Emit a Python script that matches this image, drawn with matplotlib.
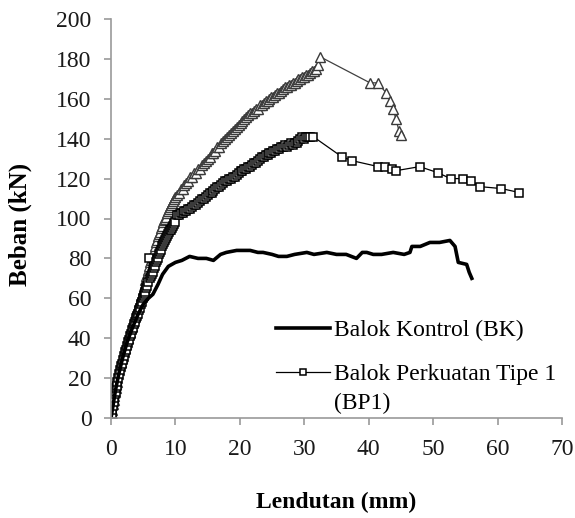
import matplotlib
matplotlib.use("Agg")
import matplotlib.pyplot as plt

plt.rcParams['font.family'] = ['Liberation Serif', 'DejaVu Serif']

# Balok Kontrol (BK)
bk_x = [0, 0.3, 0.7, 1.2, 1.8, 2.5, 3.3, 4.2, 5.0, 5.8, 6.5, 7.3, 8.0, 8.9, 10.0,
        11.0, 12.2, 13.5, 14.8, 15.9, 17.0, 17.9, 19.5, 21.6, 22.8, 23.6, 25.0,
        26.0, 27.3, 28.5, 30.4, 31.5, 33.5, 35.0, 36.5, 38.1, 39.0, 39.7, 40.7,
        42.0, 43.8, 45.5, 46.4, 46.7, 48.0, 49.5, 51.0, 52.6, 53.4, 53.9, 55.2,
        55.6, 56.0]
bk_y = [0, 6, 14, 22, 30, 38, 45, 52, 57, 60, 62, 67, 72, 76, 78,
        79, 81, 80, 80, 79, 82, 83, 84, 84, 83, 83, 82,
        81, 81, 82, 83, 82, 83, 82, 82, 80, 83, 83, 82,
        82, 83, 82, 83, 86, 86, 88, 88, 89, 86, 78, 77,
        73, 70]

# deflection readings of the elastic part (shared by both strengthened beams)
x_early = [0, 0.1, 0.2, 0.3, 0.4, 0.5, 0.6, 0.7, 0.8, 0.9, 1.0,
           1.15, 1.3, 1.45, 1.6, 1.75, 1.9, 2.05, 2.2, 2.35, 2.5, 2.65, 2.8, 2.95,
           3.1, 3.25, 3.4, 3.55, 3.7, 3.85, 4.0, 4.15, 4.3, 4.45, 4.6, 4.75,
           4.9, 5.05, 5.2, 5.35, 5.5, 5.65, 5.8, 5.95, 6.1, 6.25, 6.4, 6.55,
           6.7, 6.85, 7.0, 7.15, 7.3, 7.45, 7.6, 7.75, 7.9, 8.05, 8.2, 8.35,
           8.5, 8.65, 8.8, 8.95, 9.1, 9.25, 9.4, 9.6, 9.8, 10.0, 10.2]
x_mid = [10.5, 10.8, 11.1, 11.4, 11.7, 12.0, 12.3, 12.6, 12.9, 13.2, 13.5, 13.8,
         14.1, 14.4, 14.7, 15.0, 15.3, 15.6, 15.9, 16.2, 16.5, 16.8, 17.1, 17.4,
         17.7, 18.0, 18.3, 18.6, 18.9, 19.2, 19.5, 19.8, 20.1, 20.4, 20.7, 21.0,
         21.3, 21.6, 21.9, 22.2, 22.5, 22.8, 23.1, 23.4, 23.7, 24.0, 24.3, 24.6,
         24.9, 25.2, 25.5, 25.8, 26.1, 26.4, 26.7, 27.0, 27.3, 27.6, 27.9, 28.2,
         28.5, 28.8, 29.1, 29.4, 29.7, 30.0, 30.3, 30.6, 30.9]

# Balok Perkuatan Tipe 1 (BP1)
bp1_x = x_early + x_mid + [31.4, 35.8, 37.4, 41.5, 42.5, 43.6, 44.3, 47.9,
                           50.7, 52.7, 54.6, 55.8, 57.2, 60.6, 63.4]
bp1_y = [0, 2, 4, 6, 8, 10, 12, 13, 15, 16, 18,
         20, 22, 24, 26, 27, 29, 31, 33, 34, 36, 38, 39, 41,
         42, 44, 45, 47, 48, 50, 51, 52, 54, 55, 57, 58,
         60, 61, 62, 63, 65, 66, 68, 80, 70, 71, 72, 73,
         75, 76, 78, 79, 80, 82, 83, 84, 86, 87, 88, 89,
         90, 91, 92, 93, 94, 94, 95, 96, 97, 98, 102,
         102, 103, 103, 104, 104, 105, 105, 106, 107, 107, 108, 109,
         110, 110, 111, 112, 113, 113, 114, 115, 116, 116, 117, 118,
         119, 119, 120, 120, 121, 121, 122, 123, 124, 124, 125, 125,
         126, 126, 127, 128, 128, 129, 130, 131, 131, 132, 132, 133,
         133, 134, 134, 135, 135, 136, 136, 137, 136, 137, 138, 137,
         138, 138, 139, 140, 141, 140, 141, 141, 141,
         141, 131, 129, 126, 126, 125, 124, 126,
         123, 120, 120, 119, 116, 115, 113]

# third specimen (triangles)
bp2_x = x_early + x_mid + [31.2, 31.5, 31.8, 32.1, 32.5,
                           40.2, 41.4, 42.7, 43.3, 43.8, 44.2, 44.7, 45.0]
bp2_y = [0, 2, 4, 7, 9, 11, 13, 15, 17, 18, 20,
         22, 24, 26, 28, 30, 31, 33, 35, 37, 38, 40, 42, 43,
         45, 46, 48, 50, 51, 53, 55, 56, 58, 59, 61, 62,
         64, 66, 67, 69, 71, 72, 74, 76, 78, 79, 81, 82,
         84, 86, 88, 89, 91, 92, 93, 95, 96, 98, 99, 100,
         101, 103, 104, 105, 106, 107, 108, 109, 110, 111, 112,
         113, 115, 115, 117, 118, 119, 121, 121, 123, 123, 125, 125,
         127, 128, 129, 130, 131, 133, 133, 134, 136, 136, 138, 139,
         140, 141, 142, 143, 144, 145, 146, 147, 148, 149, 150, 151,
         152, 153, 153, 154, 155, 155, 157, 157, 158, 159, 159, 160,
         161, 161, 162, 163, 163, 164, 165, 166, 166, 167, 167, 168,
         168, 169, 170, 170, 171, 171, 172, 172, 173,
         174, 174, 175, 177, 181,
         168, 168, 163, 159, 155, 150, 144, 142]

fig = plt.figure(figsize=(5.75, 5.18), dpi=100)
ax = fig.add_axes([111 / 575, 1 - 418 / 518, 451 / 575, 399 / 518])

ax.plot(bp2_x, bp2_y, color='#404040', lw=0.9, marker='^', ms=6.5,
        mfc='white', mec='#3a3a3a', mew=1.0)
ax.plot(bp1_x, bp1_y, color='black', lw=0.9, marker='s', ms=5.5,
        mfc='white', mec='black', mew=1.1, label='Balok Perkuatan Tipe 1')
ax.plot(bk_x, bk_y, color='black', lw=2.6, label='Balok Kontrol (BK)')

ax.set_xlim(0, 70)
ax.set_ylim(0, 200)
ax.set_xticks(range(0, 71, 10))
ax.set_yticks(range(0, 201, 20))

for s in ['top', 'right']:
    ax.spines[s].set_visible(False)
for s in ['left', 'bottom']:
    ax.spines[s].set_color('#999999')
    ax.spines[s].set_linewidth(1.2)
ax.tick_params(axis='both', direction='out', color='#999999', width=1.2,
               length=5, labelsize=17, labelcolor='#1a1a1a')
ax.tick_params(axis='x', pad=10)
ax.tick_params(axis='y', pad=9)

ax.set_xlabel('Lendutan (mm)', fontsize=17, fontweight='bold')
ax.set_ylabel('Beban (kN)', fontsize=18, fontweight='bold')
ax.xaxis.set_label_coords(0.5, -0.185)
ax.yaxis.set_label_coords(-0.175, 0.485)

handles, labels = ax.get_legend_handles_labels()
leg = ax.legend(handles[::-1], labels[::-1], loc='upper left',
                bbox_to_anchor=(276 / 575, 1 - 320 / 518),
                bbox_transform=fig.transFigure, frameon=False, fontsize=17,
                borderpad=0, borderaxespad=0, handlelength=2.3,
                handletextpad=0.15, labelspacing=0.95, markerscale=0.9)

# second line of the BP1 label, kept under its first line like the original
fig.canvas.draw()
bb = leg.get_texts()[1].get_window_extent()
fig.text(bb.x0, bb.y0 - 7, '(BP1)', fontsize=17, color='black',
         ha='left', va='top', transform=None)

fig.savefig('out.png', dpi=100)
